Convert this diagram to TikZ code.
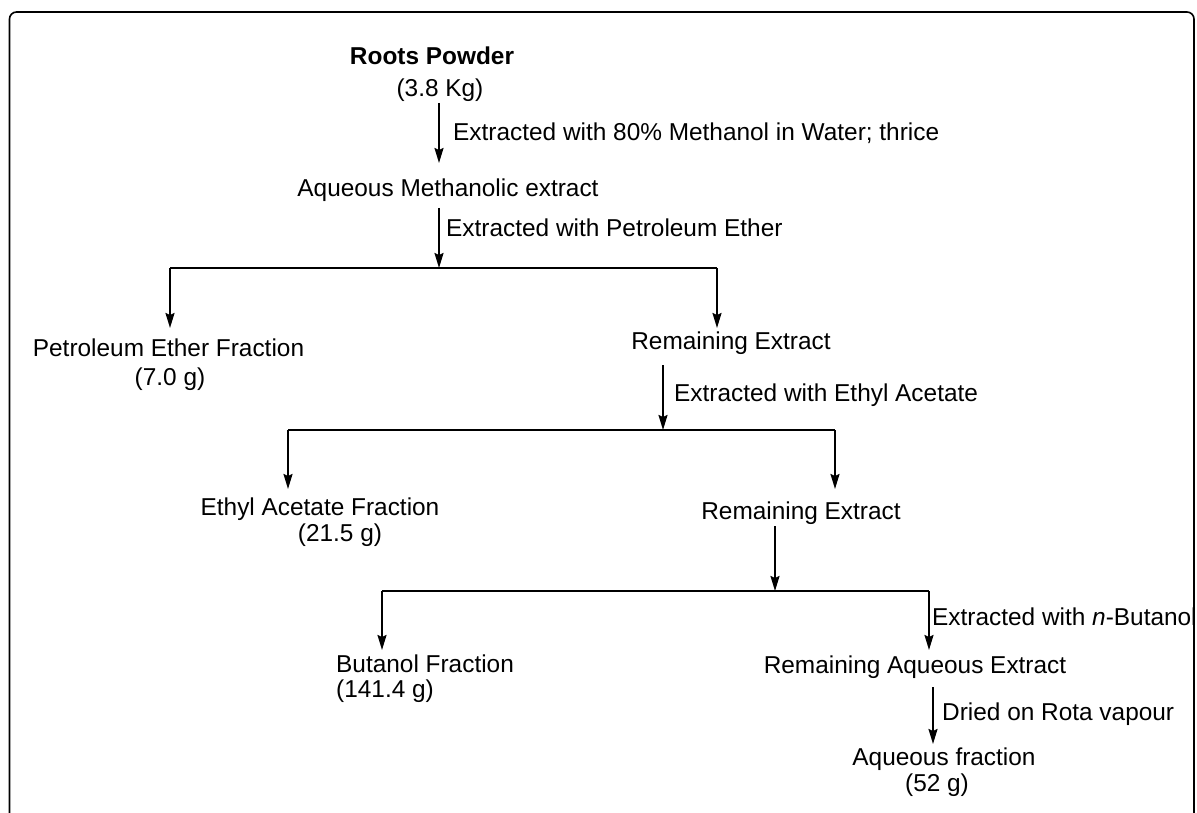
\documentclass[tikz,border=0pt]{standalone}
\usepackage{fontspec}
\setmainfont{Liberation Sans}
\usetikzlibrary{arrows.meta}
\begin{document}
\begin{tikzpicture}[x=1pt,y=-1pt,
  lbl/.style={inner sep=0pt,font=\fontsize{24.4}{29}\selectfont,text height=17.5pt,text depth=0pt},
  ln/.style={line width=1.8pt},
  arr/.style={ln,-{Stealth[length=15pt,width=9pt,inset=2pt]}}]
\useasboundingbox (0,0) rectangle (1197,813);
% frame
\draw[line width=1.6pt,rounded corners=7pt] (9.5,820) -- (9.5,12) -- (1194,12) -- (1194,820);
% texts
\node[lbl] (root) at (432,56) {\textbf{Roots Powder}};
\node[lbl] (rootkg) at (440,88) {(3.8 Kg)};
\node[lbl,anchor=west] (l1) at (453,132) {Extracted with 80\% Methanol in Water; thrice};
\node[lbl] (aq) at (448,188) {Aqueous Methanolic extract};
\node[lbl,anchor=west] (l2) at (446,228) {Extracted with Petroleum Ether};
\node[lbl] (pet) at (168.5,348) {Petroleum Ether Fraction};
\node[lbl] (petg) at (170,377) {(7.0 g)};
\node[lbl] (rem1) at (731,341) {Remaining Extract};
\node[lbl,anchor=west] (l3) at (674,393) {Extracted with Ethyl Acetate};
\node[lbl] (ea) at (320,507) {Ethyl Acetate Fraction};
\node[lbl] (eag) at (340,533) {(21.5 g)};
\node[lbl] (rem2) at (801,511) {Remaining Extract};
\node[lbl,anchor=west] (l4) at (932,617) {Extracted with \textit{n}-Butanol};
\node[lbl,anchor=west] (but) at (336,664) {Butanol Fraction};
\node[lbl,anchor=west] (butg) at (336,689) {(141.4 g)};
\node[lbl] (rae) at (915,665) {Remaining Aqueous Extract};
\node[lbl,anchor=west] (l5) at (942,712) {Dried on Rota vapour};
\node[lbl] (af) at (944,757) {Aqueous fraction};
\node[lbl] (afg) at (937,783) {(52 g)};
% junction coordinates
\coordinate (a1s) at (439,103); \coordinate (a1e) at (439,163);
\coordinate (a2s) at (439,208); \coordinate (j1) at (439,268);
\coordinate (b1l) at (170,268); \coordinate (b1r) at (717,268);
\coordinate (t1l) at (170,328); \coordinate (t1r) at (717,328);
\coordinate (a3s) at (663,365); \coordinate (j2) at (663,430);
\coordinate (b2l) at (288,430); \coordinate (b2r) at (835,430);
\coordinate (t2l) at (288,489); \coordinate (t2r) at (835,489);
\coordinate (a4s) at (775,526); \coordinate (j3) at (775,591);
\coordinate (b3l) at (382,591); \coordinate (b3r) at (929,591);
\coordinate (t3l) at (382,650); \coordinate (t3r) at (929,650);
\coordinate (a5s) at (933,687); \coordinate (a5e) at (933,744);
% connectors
\draw[arr] (a1s) -- (a1e);
\draw[arr] (a2s) -- (j1);
\draw[ln] (b1l) -- (b1r);
\draw[arr] (b1l) -- (t1l);
\draw[arr] (b1r) -- (t1r);
\draw[arr] (a3s) -- (j2);
\draw[ln] (b2l) -- (b2r);
\draw[arr] (b2l) -- (t2l);
\draw[arr] (b2r) -- (t2r);
\draw[arr] (a4s) -- (j3);
\draw[ln] (b3l) -- (b3r);
\draw[arr] (b3l) -- (t3l);
\draw[arr] (b3r) -- (t3r);
\draw[arr] (a5s) -- (a5e);
\end{tikzpicture}
\end{document}
